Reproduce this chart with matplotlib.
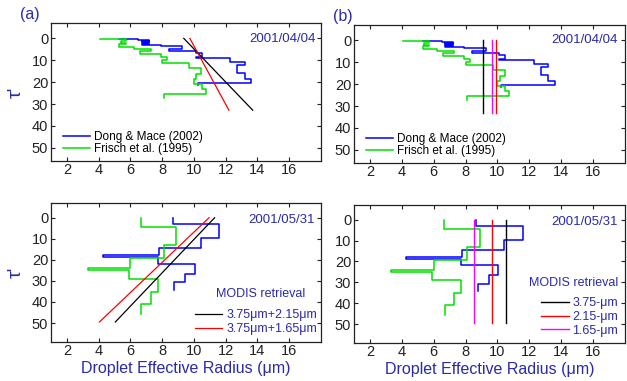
import matplotlib
matplotlib.use("Agg")
import matplotlib.pyplot as plt
import numpy as np

plt.rcParams['font.family'] = ['Liberation Sans', 'DejaVu Sans']

# ---------------- data ----------------
# 2001/04/04 profiles: layer radius (um) and layer boundaries (optical depth)
dm_r_0404 = [5.3, 6.5, 7.2, 6.7, 7.2, 6.7, 7.2, 6.7, 7.9, 9.25, 8.4, 10.1, 10.5, 10.1,
             12.3, 13.2, 12.7, 13.2, 13.6, 10.25]
dm_t_0404 = [0.3, 0.3, 0.6, 1.0, 1.4, 1.8, 2.2, 2.5, 2.9, 3.6, 4.8, 5.6, 6.8, 8.3, 9.2,
             10.9, 12.4, 15.9, 18.4, 20.3, 21.4]
fr_r_0404 = [4.1, 5.7, 5.4, 5.7, 5.3, 6.2, 7.3, 6.6, 7.9, 8.3, 8.0, 9.7, 10.45, 10.15,
             10.0, 10.5, 10.75, 8.1]
fr_t_0404 = [0.5, 0.5, 1.3, 2.0, 2.8, 3.8, 4.7, 5.9, 7.1, 8.5, 9.8, 11.2, 13.6, 16.2,
             18.5, 20.7, 23.0, 25.6, 27.3]

# 2001/05/31 profiles
dm_r_0531 = [8.67, 11.6, 10.44, 7.8, 4.28, 7.72, 10.04, 9.44, 8.75]
dm_t_0531 = [0.0, 3.2, 9.7, 14.5, 17.9, 18.8, 21.8, 26.5, 30.6, 34.2]
fr_r_0531 = [6.66, 8.88, 8.1, 6.0, 3.3, 5.9, 7.73, 7.27, 6.68]
fr_t_0531 = [0.0, 4.6, 13.1, 19.3, 24.0, 25.0, 29.0, 35.3, 41.0, 45.7]

# MODIS retrievals: combined (linear) profiles, radius at tau top / tau bottom
lin_tau_0404 = [0.0, 32.8]
lin_3752_0404 = [9.36, 13.7]
lin_3716_0404 = [9.74, 12.2]
lin_tau_0531 = [0.0, 49.5]
lin_3752_0531 = [11.3, 5.05]
lin_3716_0531 = [10.95, 4.05]

# MODIS retrievals: single-band (vertically uniform)
vert_tau_0404 = [0.0, 33.0]
vert_0404 = {'3.75': 9.08, '2.15': 9.88, '1.65': 9.63}
vert_tau_0531 = [0.0, 49.5]
vert_0531 = {'3.75': 10.56, '2.15': 9.63, '1.65': 8.5}

xticks = [2, 4, 6, 8, 10, 12, 14, 16]
yticks = [0, 10, 20, 30, 40, 50]

# ---------------- style ----------------
TXT_BLUE = '#2a2aaa'
C_DM = '#0000ff'
C_FR = '#00e000'
TICK_FS = 10.5


def step_path(r, t):
    xs, ys = [], []
    for i, rv in enumerate(r):
        xs += [rv, rv]
        ys += [t[i], t[i + 1]]
    return xs, ys


def style(ax, ylim):
    ax.set_xlim(1, 18)
    ax.set_ylim(ylim, -7)
    ax.set_xticks(xticks)
    ax.set_yticks(yticks)
    ax.tick_params(direction='in', length=3, width=0.8, top=True, right=True,
                   labelsize=TICK_FS, colors='#222222')
    ax.tick_params(axis='x', pad=1.5)
    ax.tick_params(axis='y', pad=2.0)
    for s in ax.spines.values():
        s.set_linewidth(0.9)
        s.set_color('#222222')


fig = plt.figure(figsize=(6.27, 3.81), dpi=100)
W, H = 627, 381


def add_ax(l, r, t, b):
    return fig.add_axes([l / W, 1 - b / H, (r - l) / W, (b - t) / H])


ax_a1 = add_ax(51, 321, 23, 161)
ax_b1 = add_ax(354, 625, 25, 163)
ax_a2 = add_ax(51, 321, 203, 342)
ax_b2 = add_ax(354, 625, 205, 343)

for ax, ylim in [(ax_a1, 56), (ax_b1, 56), (ax_a2, 59), (ax_b2, 59)]:
    style(ax, ylim)

# ---- profiles ----
for ax in (ax_a1, ax_b1):
    x, y = step_path(dm_r_0404, dm_t_0404)
    ax.plot(x, y, color=C_DM, lw=1.1, label='Dong & Mace (2002)')
    x, y = step_path(fr_r_0404, fr_t_0404)
    ax.plot(x, y, color=C_FR, lw=1.1, label='Frisch et al. (1995)')

for ax in (ax_a2, ax_b2):
    x, y = step_path(dm_r_0531, dm_t_0531)
    ax.plot(x, y, color=C_DM, lw=1.1)
    x, y = step_path(fr_r_0531, fr_t_0531)
    ax.plot(x, y, color=C_FR, lw=1.1)

# ---- linear retrievals (a) ----
ax_a1.plot(lin_3752_0404, lin_tau_0404, color='black', lw=0.9)
ax_a1.plot(lin_3716_0404, lin_tau_0404, color='red', lw=0.9)
ax_a2.plot(lin_3752_0531, lin_tau_0531, color='black', lw=0.9, label='3.75\u03bcm+2.15\u03bcm')
ax_a2.plot(lin_3716_0531, lin_tau_0531, color='red', lw=0.9, label='3.75\u03bcm+1.65\u03bcm')

# ---- vertical retrievals (b) ----
vcol = {'3.75': 'black', '2.15': 'red', '1.65': '#ff00ff'}
for k in ['3.75', '2.15', '1.65']:
    ax_b1.plot([vert_0404[k]] * 2, vert_tau_0404, color=vcol[k], lw=1.0)
    ax_b2.plot([vert_0531[k]] * 2, vert_tau_0531, color=vcol[k], lw=1.0, label=k + '-\u03bcm')

# ---- dates ----
for ax, xf, yf, txt in [(ax_a1, 0.981, 0.861, '2001/04/04'),
                        (ax_b1, 0.974, 0.870, '2001/04/04'),
                        (ax_a2, 0.978, 0.856, '2001/05/31'),
                        (ax_b2, 0.974, 0.855, '2001/05/31')]:
    ax.text(xf, yf, txt, transform=ax.transAxes, ha='right', va='baseline',
            color=TXT_BLUE, fontsize=9.5)

# ---- legends ----
for ax in (ax_a1, ax_b1):
    ax.legend(loc='lower left', bbox_to_anchor=(0.045, 0.04), frameon=False,
              fontsize=8.5, handlelength=2.3, handletextpad=0.3,
              labelspacing=0.05, borderpad=0, borderaxespad=0)

ax_a2.legend(loc='lower right', bbox_to_anchor=(0.985, 0.05), frameon=False,
             fontsize=9, handlelength=2.2, handletextpad=0.3,
             labelspacing=0.15, borderpad=0, borderaxespad=0, labelcolor=TXT_BLUE)
ax_a2.text((261 - 51) / 270, 1 - (294 - 203) / 139, 'MODIS retrieval', transform=ax_a2.transAxes,
           ha='center', va='center', color=TXT_BLUE, fontsize=9)

ax_b2.legend(loc='lower right', bbox_to_anchor=(0.975, 0.045), frameon=False,
             fontsize=9, handlelength=2.2, handletextpad=0.3,
             labelspacing=0.15, borderpad=0, borderaxespad=0, labelcolor=TXT_BLUE)
ax_b2.text((574 - 354) / 271, 1 - (283 - 205) / 138, 'MODIS retrieval', transform=ax_b2.transAxes,
           ha='center', va='center', color=TXT_BLUE, fontsize=9)

# ---- labels ----
for ax in (ax_a1, ax_a2):
    ax.set_ylabel("\u03c4'", color=TXT_BLUE, fontsize=14, labelpad=5)
for ax in (ax_a2, ax_b2):
    ax.set_xlabel('Droplet Effective Radius (\u03bcm)', color=TXT_BLUE, fontsize=11.5,
                  labelpad=2)

fig.text(20 / W, 1 - 15 / H, '(a)', color=TXT_BLUE, fontsize=11.5, va='center', ha='left')
fig.text(333 / W, 1 - 16 / H, '(b)', color=TXT_BLUE, fontsize=11.5, va='center', ha='left')

fig.savefig('out.png', dpi=100)
